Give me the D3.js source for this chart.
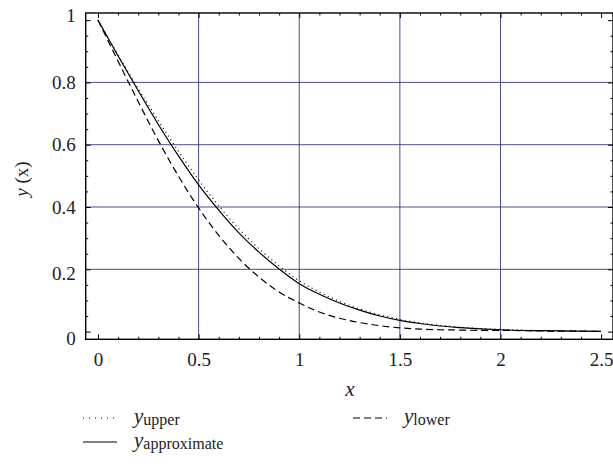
<!DOCTYPE html>
<html>
<head>
<meta charset="utf-8">
<script src="https://cdn.jsdelivr.net/npm/d3@7"></script>
<style>
  body { margin: 0; background: #fff; }
</style>
</head>
<body>
<div id="chart"></div>
<script>
// values
const xValues = [0, 0.1, 0.2, 0.3, 0.4, 0.5, 0.6, 0.7, 0.8, 0.9, 1.0, 1.1, 1.2, 1.3, 1.4, 1.5, 1.6, 1.7, 1.8, 1.9, 2.0, 2.2, 2.5];
const yUpper  = [1, 0.888, 0.780, 0.677, 0.579, 0.487, 0.404, 0.330, 0.266, 0.211, 0.163, 0.127, 0.097, 0.073, 0.054, 0.039, 0.028, 0.020, 0.014, 0.010, 0.007, 0.003, 0.001];
const yApprox = [1, 0.885, 0.773, 0.665, 0.564, 0.471, 0.390, 0.317, 0.255, 0.201, 0.154, 0.120, 0.092, 0.069, 0.050, 0.036, 0.026, 0.018, 0.013, 0.009, 0.006, 0.003, 0.001];
const yLower  = [1, 0.868, 0.738, 0.613, 0.499, 0.397, 0.309, 0.235, 0.175, 0.127, 0.092, 0.063, 0.043, 0.029, 0.019, 0.012, 0.008, 0.006, 0.005, 0.004, 0.004, 0.002, 0.001];

const xTicks = [0, 0.5, 1, 1.5, 2, 2.5];
const yTicks = [0, 0.2, 0.4, 0.6, 0.8, 1];
const xGrid = [0.5, 1, 1.5, 2];
const yGrid = [0.2, 0.4, 0.6, 0.8];

const W = 613, H = 474;
const frameL = 85.7, frameR = 613, frameT = 13, frameB = 339.3;
const serif = "'Liberation Serif'";

const svg = d3.select("#chart").append("svg")
  .attr("width", W).attr("height", H);

const x = d3.scaleLinear().domain([-0.061, 2.559]).range([frameL, frameR]);
const y = d3.scaleLinear().domain([-0.0247, 1.0228]).range([frameB, frameT]);

// grid
const gridColor = "#2b2b7d";
svg.append("g").selectAll("line").data(xGrid).join("line")
  .attr("x1", d => x(d)).attr("x2", d => x(d))
  .attr("y1", frameT).attr("y2", frameB)
  .attr("stroke", gridColor).attr("stroke-opacity", 0.85).attr("stroke-width", 1);
svg.append("g").selectAll("line").data(yGrid).join("line")
  .attr("x1", frameL).attr("x2", frameR)
  .attr("y1", d => y(d)).attr("y2", d => y(d))
  .attr("stroke", gridColor).attr("stroke-opacity", 0.85).attr("stroke-width", 1);

// minor tick values
const xMinor = d3.range(0, 26).map(i => i / 10).filter(v => !xTicks.some(t => Math.abs(t - v) < 1e-9));
const yMinor = d3.range(0, 21).map(i => i / 20).filter(v => !yTicks.some(t => Math.abs(t - v) < 1e-9));

function tickAxis(axisFn, scale, values, size, tr) {
  const g = svg.append("g").attr("transform", tr)
    .call(axisFn(scale).tickValues(values).tickSize(size).tickSizeOuter(0).tickFormat(""));
  g.select(".domain").remove();
  g.selectAll(".tick line").attr("stroke", "#000").attr("stroke-width", 1);
  return g;
}

// inward ticks on all four sides
tickAxis(d3.axisBottom, x, xMinor, -2.5, `translate(0,${frameB})`);
tickAxis(d3.axisTop, x, xMinor, -2.5, `translate(0,${frameT})`);
tickAxis(d3.axisLeft, y, yMinor, -2.5, `translate(${frameL},0)`);
tickAxis(d3.axisRight, y, yMinor, -2.5, `translate(${frameR},0)`);
tickAxis(d3.axisTop, x, xTicks, -5, `translate(0,${frameT})`);
tickAxis(d3.axisRight, y, yTicks, -5, `translate(${frameR},0)`);

// labelled axes
const xAxis = svg.append("g").attr("transform", `translate(0,${frameB})`)
  .call(d3.axisBottom(x).tickValues(xTicks).tickSize(-5).tickPadding(13).tickFormat(d3.format("")));
const yAxis = svg.append("g").attr("transform", `translate(${frameL},0)`)
  .call(d3.axisLeft(y).tickValues(yTicks).tickSize(-5).tickPadding(10).tickFormat(d3.format("")));
[xAxis, yAxis].forEach(g => {
  g.attr("font-size", 19);
  g.select(".domain").remove();
  g.selectAll(".tick line").attr("stroke", "#000").attr("stroke-width", 1);
  g.selectAll(".tick text").attr("fill", "#222").style("font-family", serif);
});
// end labels sit against the frame corners
yAxis.selectAll(".tick text").attr("y", d => d === 0 ? 7 : d === 1 ? -5 : d === 0.2 ? 4 : 0);

// frame
svg.append("rect")
  .attr("x", frameL).attr("y", frameT)
  .attr("width", frameR - frameL).attr("height", frameB - frameT)
  .attr("fill", "none").attr("stroke", "#000").attr("stroke-width", 1.4);

// curves
svg.append("clipPath").attr("id", "plotclip").append("rect")
  .attr("x", frameL).attr("y", frameT).attr("width", frameR - frameL).attr("height", frameB - frameT);

const line = d3.line().x(d => x(d[0])).y(d => y(d[1])).curve(d3.curveMonotoneX);
const series = [
  { vals: yUpper, dash: "1,3.5", width: 1.2 },
  { vals: yLower, dash: "7,4", width: 1.2 },
  { vals: yApprox, dash: null, width: 1.2 }
];
const plot = svg.append("g").attr("clip-path", "url(#plotclip)");
series.forEach(s => {
  plot.append("path")
    .datum(xValues.map((v, i) => [v, s.vals[i]]))
    .attr("d", line)
    .attr("fill", "none")
    .attr("stroke", "#000")
    .attr("stroke-width", s.width)
    .attr("stroke-dasharray", s.dash);
});

// axis titles
svg.append("text")
  .attr("x", 350).attr("y", 396)
  .attr("text-anchor", "middle")
  .attr("font-size", 21).attr("font-style", "italic")
  .attr("fill", "#222").style("font-family", serif)
  .text("x");

const yl = svg.append("text")
  .attr("transform", "translate(28,179) rotate(-90)")
  .attr("text-anchor", "middle")
  .attr("font-size", 19).attr("fill", "#222").style("font-family", serif);
yl.append("tspan").attr("font-style", "italic").text("y");
yl.append("tspan").text(" (x)");

// legend
const legendItems = [
  { name: "upper", dash: "1,5", lx: 83, ly: 418 },
  { name: "lower", dash: "7,4", lx: 353, ly: 418 },
  { name: "approximate", dash: null, lx: 83, ly: 442 }
];
const legend = svg.append("g");
legendItems.forEach(it => {
  legend.append("line")
    .attr("x1", it.lx).attr("x2", it.lx + 34)
    .attr("y1", it.ly).attr("y2", it.ly)
    .attr("stroke", "#000").attr("stroke-width", 1.2)
    .attr("stroke-dasharray", it.dash);
  const t = legend.append("text")
    .attr("x", it.lx + 51).attr("y", it.ly + 5)
    .attr("fill", "#222").style("font-family", serif);
  t.append("tspan").attr("font-style", "italic").attr("font-size", 21).text("y");
  t.append("tspan").attr("font-size", 16).attr("dy", 2).text(it.name);
});
</script>
</body>
</html>
